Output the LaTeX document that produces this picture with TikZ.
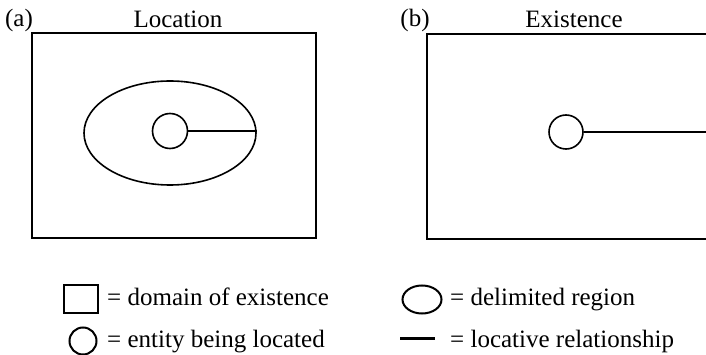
\documentclass[tikz,border=0pt]{standalone}
\usepackage{fontspec}
\setmainfont{Liberation Serif}
\usetikzlibrary{shapes.geometric, positioning}
\tikzstyle{domainbox} = [rectangle, draw=black, line width=1.8pt, inner sep=0pt]
\tikzstyle{regionshape} = [ellipse, draw=black, line width=1.6pt, inner sep=0pt]
\tikzstyle{entityshape} = [circle, draw=black, line width=1.6pt, inner sep=0pt]
\tikzstyle{relation} = [line width=1.3pt]
\tikzstyle{caption} = [inner sep=0pt, anchor=base, font=\fontsize{25}{28}\selectfont]
\tikzstyle{keytext} = [inner sep=0pt, anchor=base west, font=\fontsize{25}{28}\selectfont]

\begin{document}
\begin{tikzpicture}[x=1pt, y=-1pt]
    \useasboundingbox (0,0) rectangle (706,355);
    % panel (a)
    \node (tag a) [caption] at (19,27) {(a)};
    \node (title a) [caption] at (178,28) {Location};
    \node (dom a) [domainbox, minimum width=284pt, minimum height=205pt] at (174,135.5) {};
    \node (reg a) [regionshape, minimum width=172pt, minimum height=104pt] at (170,133) {};
    \node (ent a) [entityshape, minimum size=35pt] at (170,131) {};
    \draw [relation] (ent a.east) -- (ent a.east -| reg a.east);

    % panel (b)
    \node (tag b) [caption] at (415,27) {(b)};
    \node (title b) [caption] at (574,28) {Existence};
    \node (dom b) [domainbox, minimum width=290pt, minimum height=205pt] at (572,136.5) {};
    \node (ent b) [entityshape, minimum size=34pt] at (566,132) {};
    \draw [relation] (ent b.east) -- (ent b.east -| dom b.east);

    % key
    \node (key dom) [domainbox, line width=2.6pt, minimum width=34pt, minimum height=28pt] at (81,299) {};
    \node (txt dom) [keytext] at (107,305) {= domain of existence};
    \node (key reg) [regionshape, line width=2pt, minimum width=39pt, minimum height=28pt] at (422,299.5) {};
    \node (txt reg) [keytext] at (450,305) {= delimited region};
    \node (key ent) [entityshape, line width=2pt, minimum size=27pt] at (83,341) {};
    \node (txt ent) [keytext] at (107,347) {= entity being located};
    \coordinate (key rel) at (400,338.5);
    \coordinate (key rel end) at (435,338.5);
    \draw [line width=3.5pt] (key rel) -- (key rel end);
    \node (txt rel) [keytext] at (450,347) {= locative relationship};
\end{tikzpicture}
\end{document}
